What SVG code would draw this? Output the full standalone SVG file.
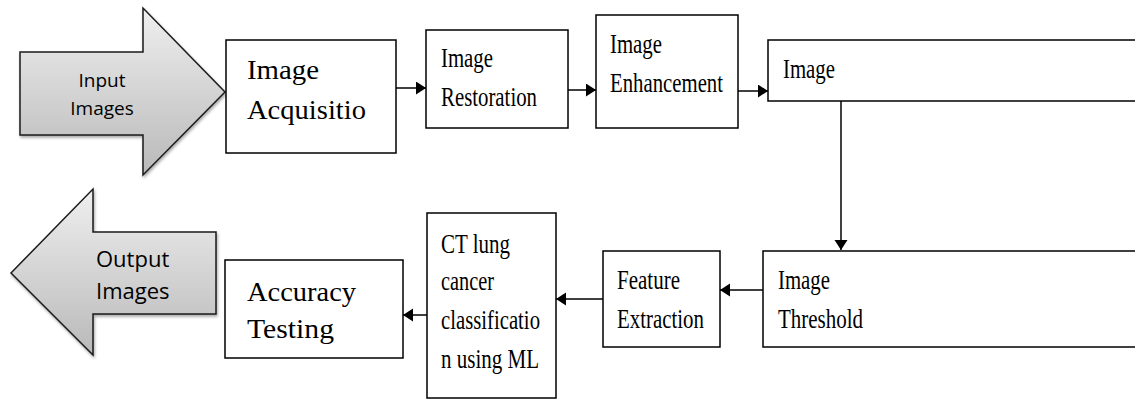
<svg xmlns="http://www.w3.org/2000/svg" width="1135" height="399" viewBox="0 0 1135 399">
<style>
.box{fill:#fff;stroke:#000;stroke-width:1.5}
.t{font-family:"Liberation Serif","Times New Roman",serif;font-size:28px;fill:#000}
.big{fill:url(#g);stroke:#1a1a1a;stroke-width:1.5;stroke-linejoin:miter;filter:url(#sh)}
.s{font-family:"Open Sans","Liberation Sans",sans-serif;fill:#000}
.c{stroke:#000;stroke-width:1.5;fill:none;marker-end:url(#ah)}
</style>
<defs>
<linearGradient id="g" x1="0" y1="0" x2="0" y2="1">
<stop offset="0" stop-color="#efefef"/>
<stop offset="1" stop-color="#b9b9b9"/>
</linearGradient>
<filter id="sh" x="-10%" y="-10%" width="130%" height="130%">
<feGaussianBlur in="SourceAlpha" stdDeviation="1.5"/>
<feOffset dx="1" dy="2" result="b"/>
<feComponentTransfer><feFuncA type="linear" slope="0.35"/></feComponentTransfer>
<feMerge><feMergeNode/><feMergeNode in="SourceGraphic"/></feMerge>
</filter>
<marker id="ah" markerUnits="userSpaceOnUse" markerWidth="12" markerHeight="14" refX="10" refY="6.5" orient="auto">
<path d="M0,0 L10,6.5 L0,13 z" fill="#000"/>
</marker>
</defs>
<g id="input">
<polygon class="big" points="20,52 143,52 143,8 225,92 143,175 143,135 20,135"/>
<text class="s" font-size="19" x="102" y="87" text-anchor="middle">Input</text>
<text class="s" font-size="19" x="102" y="115" text-anchor="middle">Images</text>
</g>
<g id="output">
<polygon class="big" points="216,232 93,232 93,189 11,273 93,355 93,314 216,314"/>
<text class="s" font-size="22" x="96" y="267">Output</text>
<text class="s" font-size="22" x="96" y="299">Images</text>
</g>
<g id="acquisition">
<rect class="box" x="226" y="40" width="170" height="113"/>
<text class="t" x="247" y="79" textLength="72" lengthAdjust="spacingAndGlyphs">Image</text>
<text class="t" x="247" y="119" textLength="119" lengthAdjust="spacingAndGlyphs">Acquisitio</text>
</g>
<g id="restoration">
<rect class="box" x="426" y="30" width="142" height="98"/>
<text class="t" x="441" y="67" textLength="52" lengthAdjust="spacingAndGlyphs">Image</text>
<text class="t" x="441" y="106" textLength="96" lengthAdjust="spacingAndGlyphs">Restoration</text>
</g>
<g id="enhancement">
<rect class="box" x="596" y="15" width="142" height="113"/>
<text class="t" x="610" y="53" textLength="52" lengthAdjust="spacingAndGlyphs">Image</text>
<text class="t" x="610" y="92" textLength="113" lengthAdjust="spacingAndGlyphs">Enhancement</text>
</g>
<g id="image">
<rect class="box" x="768" y="40" width="400" height="61"/>
<text class="t" x="783" y="78" textLength="52" lengthAdjust="spacingAndGlyphs">Image</text>
</g>
<g id="threshold">
<rect class="box" x="763" y="251" width="400" height="96"/>
<text class="t" x="778" y="289" textLength="52" lengthAdjust="spacingAndGlyphs">Image</text>
<text class="t" x="778" y="328" textLength="85" lengthAdjust="spacingAndGlyphs">Threshold</text>
</g>
<g id="feature">
<rect class="box" x="603" y="251" width="117" height="96"/>
<text class="t" x="617" y="289" textLength="63" lengthAdjust="spacingAndGlyphs">Feature</text>
<text class="t" x="617" y="328" textLength="87" lengthAdjust="spacingAndGlyphs">Extraction</text>
</g>
<g id="classification">
<rect class="box" x="427" y="213" width="129" height="185"/>
<text class="t" x="441" y="253" textLength="69" lengthAdjust="spacingAndGlyphs">CT lung</text>
<text class="t" x="441" y="290" textLength="53" lengthAdjust="spacingAndGlyphs">cancer</text>
<text class="t" x="441" y="329" textLength="99" lengthAdjust="spacingAndGlyphs">classificatio</text>
<text class="t" x="441" y="368" textLength="98" lengthAdjust="spacingAndGlyphs">n using ML</text>
</g>
<g id="accuracy">
<rect class="box" x="225" y="260" width="178" height="98"/>
<text class="t" x="247" y="301" textLength="109" lengthAdjust="spacingAndGlyphs">Accuracy</text>
<text class="t" x="247" y="338" textLength="87" lengthAdjust="spacingAndGlyphs">Testing</text>
</g>
<g id="connectors">
<line class="c" x1="396" y1="88" x2="426" y2="88"/>
<line class="c" x1="568" y1="90" x2="596" y2="90"/>
<line class="c" x1="738" y1="91" x2="768" y2="91"/>
<line class="c" x1="841" y1="101" x2="841" y2="250"/>
<line class="c" x1="763" y1="290" x2="720" y2="290"/>
<line class="c" x1="603" y1="299" x2="556" y2="299"/>
<line class="c" x1="427" y1="315" x2="403" y2="315"/>
</g>
</svg>
